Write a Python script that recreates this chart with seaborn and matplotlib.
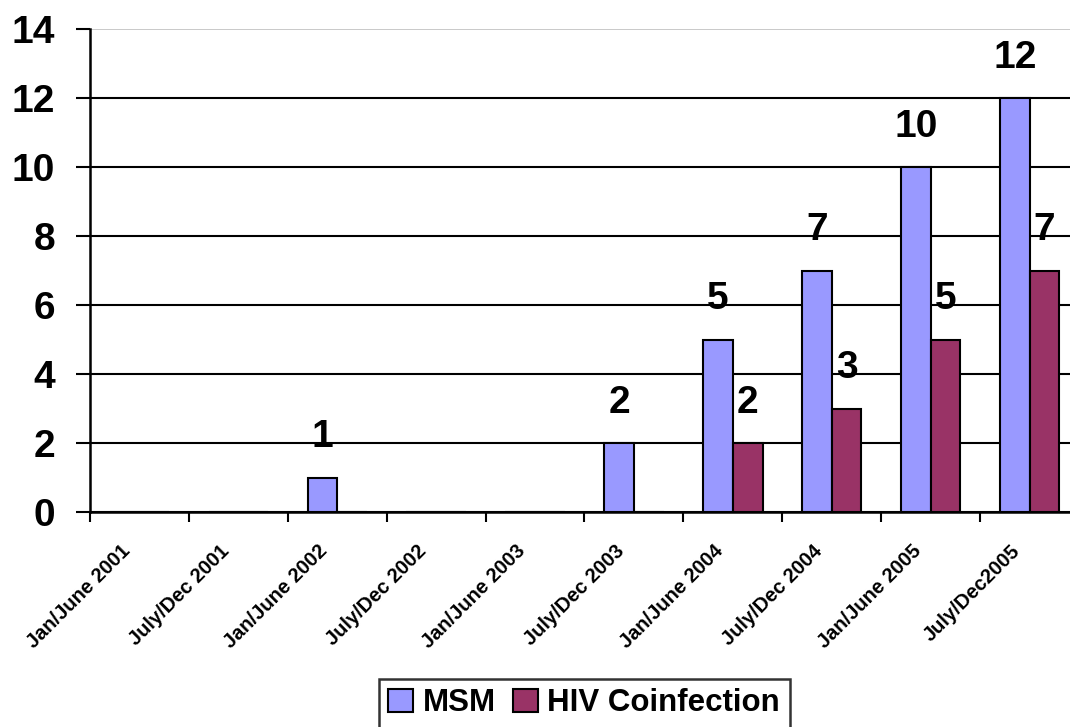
import matplotlib
matplotlib.use("Agg")
import matplotlib.pyplot as plt
import matplotlib.transforms as mtransforms
import pandas as pd
import seaborn as sns
from matplotlib.ticker import FixedLocator

periods = ["Jan/June 2001", "July/Dec 2001", "Jan/June 2002", "July/Dec 2002",
           "Jan/June 2003", "July/Dec 2003", "Jan/June 2004", "July/Dec 2004",
           "Jan/June 2005", "July/Dec2005"]
msm = [0, 0, 1, 0, 0, 2, 5, 7, 10, 12]
hiv = [0, 0, 0, 0, 0, 0, 2, 3, 5, 7]
series = ["MSM", "HIV Coinfection"]
colors = ["#9999FF", "#993366"]

df = pd.DataFrame({
    "period": periods * 2,
    "count": msm + hiv,
    "series": [series[0]] * len(periods) + [series[1]] * len(periods),
})

sns.set_style("white")
plt.rcParams["font.family"] = ["Liberation Sans", "DejaVu Sans"]
plt.rcParams["font.weight"] = "bold"
plt.rcParams["text.color"] = "black"
plt.rcParams["xtick.color"] = "black"
plt.rcParams["ytick.color"] = "black"

fig = plt.figure(figsize=(10.7, 7.27), dpi=100)
ax = fig.add_axes([90 / 1070, 215 / 727, 989 / 1070, 483 / 727])

sns.barplot(data=df, x="period", y="count", hue="series", order=periods,
            hue_order=series, palette=colors, width=0.6, edgecolor="black",
            linewidth=1.5, saturation=1, ax=ax, legend=True)

# data labels, skip the zeros
for cont, vals in zip(ax.containers, [msm, hiv]):
    ax.bar_label(cont, labels=[str(v) if v else "" for v in vals],
                 padding=16, fontsize=28, fontweight="bold", color="black")

ax.set_xlim(-0.5, len(periods) - 0.5)
ax.set_ylim(0, 14)
ax.set_yticks(range(0, 15, 2))
ax.set_xlabel("")
ax.set_ylabel("")

ax.grid(axis="y", color="black", linewidth=1.5)
ax.get_ygridlines()[-1].set_color("#c0c0c0")
ax.get_ygridlines()[-1].set_linewidth(1.2)
ax.set_axisbelow(True)

for s in ["right", "top"]:
    ax.spines[s].set_visible(False)
for s in ["left", "bottom"]:
    ax.spines[s].set_color("black")
    ax.spines[s].set_linewidth(1.8)

ax.tick_params(axis="y", labelsize=28, length=10, width=1.5, direction="out",
               left=True, pad=15, labelcolor="black")
ax.xaxis.set_minor_locator(FixedLocator([i - 0.5 for i in range(len(periods) + 1)]))
ax.tick_params(axis="x", which="major", length=0, pad=26, labelcolor="black")
ax.tick_params(axis="x", which="minor", length=7, width=1.5, bottom=True,
               direction="out")
shift = mtransforms.ScaledTranslation(-9 / 72, 0, fig.dpi_scale_trans)
for lab in ax.get_xticklabels():
    lab.set_rotation(45)
    lab.set_ha("right")
    lab.set_va("center")
    lab.set_rotation_mode("anchor")
    lab.set_fontsize(14.5)
    lab.set_fontweight("bold")
    lab.set_transform(lab.get_transform() + shift)
for lab in ax.get_yticklabels():
    lab.set_fontweight("bold")

ax.get_legend().remove()
handles, labels = ax.get_legend_handles_labels()
leg = fig.legend(handles, labels, loc="upper center", bbox_to_anchor=(0.546, 0.066),
                 ncol=2, frameon=True, fancybox=False, edgecolor="black",
                 prop={"size": 22.5, "weight": "bold"}, handlelength=0.8,
                 handleheight=0.8, handletextpad=0.3, columnspacing=0.55,
                 borderpad=0.3, borderaxespad=0)
leg.get_frame().set_linewidth(1.8)

fig.savefig("out.png", dpi=100)
